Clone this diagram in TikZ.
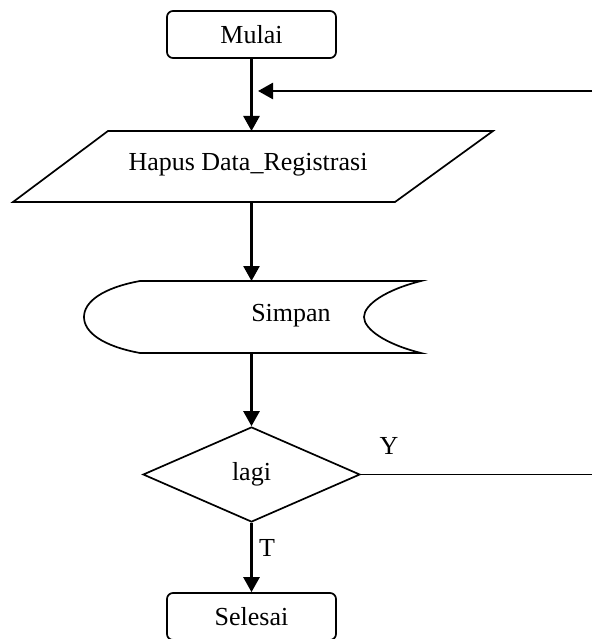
\documentclass[tikz,border=0pt]{standalone}
\usepackage{fontspec}
\setmainfont{Liberation Serif}
\usetikzlibrary{shapes.geometric,arrows.meta}
\begin{document}
\begin{tikzpicture}[x=1pt,y=-1pt,
  font=\fontsize{26}{30}\selectfont,
  outline/.style={draw=black,line width=1.7pt,line join=miter},
  term/.style={outline,rounded corners=6pt,minimum width=169pt,minimum height=47pt,inner sep=0pt},
  decision/.style={outline,diamond,minimum width=217pt,minimum height=95pt,inner sep=0pt},
  plain/.style={inner sep=0pt},
  arr/.style={line width=2.6pt,-{Triangle[length=15pt,width=16pt]}},
  conn/.style={line width=1.9pt}]
\useasboundingbox (0,0) rectangle (592,639);
% start
\node[term] (mulai) at (251.5,34.5) {Mulai};
% input/output
\draw[outline] (108,131) -- (493,131) -- (395,202) -- (13,202) -- cycle;
\coordinate (hapustop) at (251.5,131);
\coordinate (hapusbot) at (251.5,202);
\node[plain] (hapus) at (248,165) {Hapus Data\_Registrasi};
% stored data
\draw[outline] (140,281) -- (421,281)
  .. controls (385,290) and (364,305) .. (364,317)
  .. controls (364,329) and (385,344) .. (421,353)
  -- (140,353)
  .. controls (102,346) and (84,332) .. (84,317)
  .. controls (84,302) and (102,288) .. (140,281) -- cycle;
\coordinate (simpantop) at (251.5,281);
\coordinate (simpanbot) at (251.5,353);
\node[plain] (simpan) at (291,316) {Simpan};
% decision
\node[decision] (lagi) at (251.5,474.5) {lagi};
% end
\node[term] (selesai) at (251.5,616.5) {Selesai};
% connectors
\draw[arr] (mulai.south) -- (hapustop);
\coordinate (fbR) at (592,91);
\coordinate (fbL) at (258,91);
\draw[arr] (fbR) -- (fbL);
\draw[arr] (hapusbot) -- (simpantop);
\draw[arr] (simpanbot) -- (lagi.north);
\coordinate (yR) at (592,474.5);
\draw[conn] (lagi.east) -- (yR);
\draw[arr] (lagi.south) -- (selesai.north);
\node[plain] (ylab) at (389,446) {Y};
\node[plain] (tlab) at (267,548) {T};
\end{tikzpicture}
\end{document}
